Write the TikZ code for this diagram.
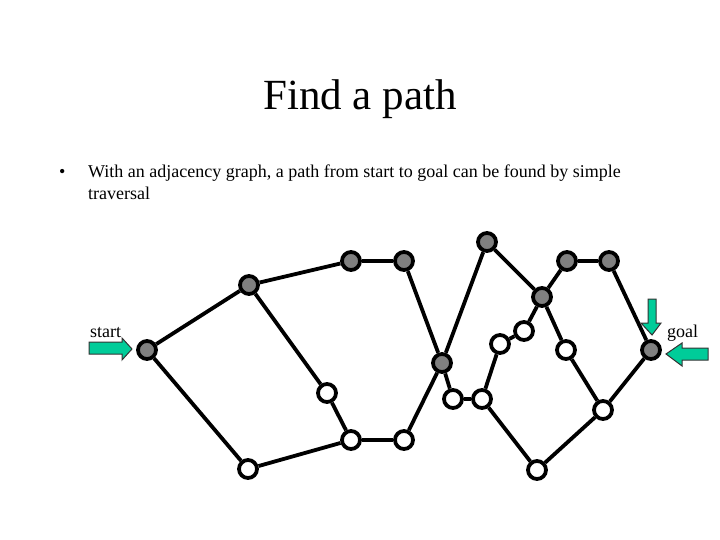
\documentclass[tikz,border=0pt]{standalone}
\usepackage{fontspec}
\setmainfont{Liberation Serif}
\usetikzlibrary{positioning}
\definecolor{nodegray}{RGB}{128,128,128}
\definecolor{pathgreen}{RGB}{0,204,153}
\tikzset{graynode/.style={circle, draw=black, line width=3.8pt, fill=nodegray, minimum size=18pt, inner sep=0pt}, whitenode/.style={circle, draw=black, line width=3.8pt, fill=white, minimum size=18pt, inner sep=0pt}, edge/.style={line width=3.8pt, draw=black}, blockarrow/.style={fill=pathgreen, draw=black!80, line width=1pt, line join=miter}, label/.style={font=\fontsize{18}{22}\selectfont, inner sep=0pt}}

\begin{document}
\begin{tikzpicture}[x=1pt, y=-1pt]
\useasboundingbox (0,0) rectangle (720,540);
\node[font=\fontsize{43}{48}\selectfont, anchor=base, inner sep=0pt] (title) at (360,110) {Find a path};
\node[label, anchor=base west] (bullet) at (59,178) {\textbullet};
\node[label, anchor=base west] (line1) at (88,178) {With an adjacency graph, a path from start to goal can be found by simple};
\node[label, anchor=base west] (line2) at (88,200) {traversal};
% gray nodes
\node[graynode] (start) at (147,350) {};
\node[graynode] (a) at (249,285) {};
\node[graynode] (b) at (351,261) {};
\node[graynode] (c) at (404,261) {};
\node[graynode] (d) at (442,363) {};
\node[graynode] (e) at (487,242) {};
\node[graynode] (f) at (542,297) {};
\node[graynode] (g) at (567,261) {};
\node[graynode] (h) at (609,261) {};
\node[graynode] (goal) at (651,350) {};
% white nodes
\node[whitenode] (w1) at (248,469) {};
\node[whitenode] (w2) at (327,393) {};
\node[whitenode] (w3) at (351,440) {};
\node[whitenode] (w4) at (404,440) {};
\node[whitenode] (w5) at (453,399) {};
\node[whitenode] (w6) at (482,399) {};
\node[whitenode] (w7) at (500,344) {};
\node[whitenode] (w8) at (524,331) {};
\node[whitenode] (w9) at (566,350) {};
\node[whitenode] (w10) at (603,410) {};
\node[whitenode] (w11) at (537,470) {};
% edges
\foreach \u/\v in {start/a, start/w1, a/b, b/c, a/w2, w2/w3, w1/w3, w3/w4, c/d, d/w4, d/e, d/w5, w5/w6, w6/w7, w7/w8, w8/f, e/f, f/g, g/h, h/goal, f/w9, w9/w10, w10/goal, w10/w11, w6/w11}
  \draw[edge] (\u) -- (\v);
% start and goal markers
\node[label, anchor=base west] (startlabel) at (90,337) {start};
\node[label, anchor=base west] (goallabel) at (667,337) {goal};
\draw[blockarrow] (89,342) -- (122,342) -- (122,338) -- (132,349) -- (122,360) -- (122,354) -- (89,354) -- cycle;
\draw[blockarrow] (648,299) -- (656,299) -- (656,323) -- (661,323) -- (652,335) -- (641,323) -- (648,323) -- cycle;
\draw[blockarrow] (708,348) -- (682,348) -- (682,343) -- (666,354) -- (682,366) -- (682,360) -- (708,360) -- cycle;
\end{tikzpicture}
\end{document}
